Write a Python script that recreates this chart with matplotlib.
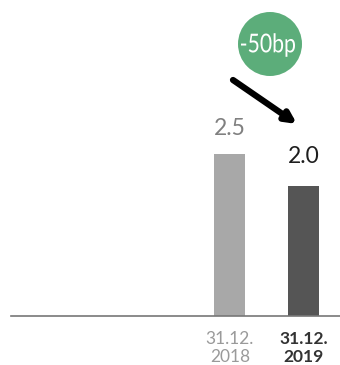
import matplotlib
matplotlib.use('Agg')
from matplotlib import pyplot as plt  # noqa
from matplotlib.patches import Circle, PathPatch
from matplotlib.textpath import TextPath
from matplotlib.font_manager import FontProperties
from matplotlib.transforms import IdentityTransform, Affine2D

dates = ['31.12.\n2018', '31.12.\n2019']
rates = [2.5, 2.0]
value_labels = ['2.5', '2.0']
change_label = '-50bp'

bar_colors = ['#a8a8a8', '#555555']
value_colors = ['#808080', '#1e1e1e']
value_offsets = [10.5, 13.5]
tick_colors = ['#9a9a9a', '#333333']
tick_weights = ['normal', 'bold']

plt.rcParams['font.family'] = ['Lato', 'DejaVu Sans']

W, H = 340, 365
fig = plt.figure(figsize=(W / 100, H / 100), dpi=100)
ax = fig.add_axes([11 / W, 49 / H, 329 / W, 316 / H])

pos = list(range(len(rates)))
ax.bar(pos, rates, width=0.42, color=bar_colors)
ax.set_xlim(-2.96, 1.49)
ax.set_ylim(0, 316 / 65)

for p, v, lab, c, off in zip(pos, rates, value_labels, value_colors,
                             value_offsets):
    ax.annotate(lab, (p, v), xytext=(0, off), textcoords='offset points',
                ha='center', va='bottom', fontsize=16.5, color=c)

ax.set_xticks(pos)
ax.set_xticklabels(dates, fontsize=12.5, linespacing=1.1)
for t, c, w in zip(ax.get_xticklabels(), tick_colors, tick_weights):
    t.set_color(c)
    t.set_fontweight(w)
ax.tick_params(axis='x', length=0, pad=11)
ax.set_yticks([])
for s in ['top', 'left', 'right']:
    ax.spines[s].set_visible(False)
ax.spines['bottom'].set_color('#777777')
ax.spines['bottom'].set_linewidth(1.2)

# green badge with the change (condensed text via scaled path)
cx, cy = 270, H - 44
fig.add_artist(Circle((cx, cy), 32, transform=IdentityTransform(),
                      facecolor='#5cad7a', edgecolor='none'))
tp = TextPath((0, 0), change_label, size=26, prop=FontProperties(family='Lato'))
ext = tp.get_extents()
sx = 54 / ext.width
tr = Affine2D().translate(-(ext.x0 + ext.x1) / 2, -(ext.y0 + ext.y1) / 2 - 1) \
    .scale(sx, 1).translate(cx - 2, cy)
fig.add_artist(PathPatch(tr.transform_path(tp), transform=IdentityTransform(),
                         facecolor='white', edgecolor='none'))

ax.annotate('', xy=(297, H - 124), xytext=(233, H - 80),
            xycoords='figure pixels', textcoords='figure pixels',
            arrowprops=dict(arrowstyle='-|>', lw=4.5, color='black',
                            mutation_scale=16, shrinkA=0, shrinkB=0))

fig.savefig('out.png', dpi=100)
